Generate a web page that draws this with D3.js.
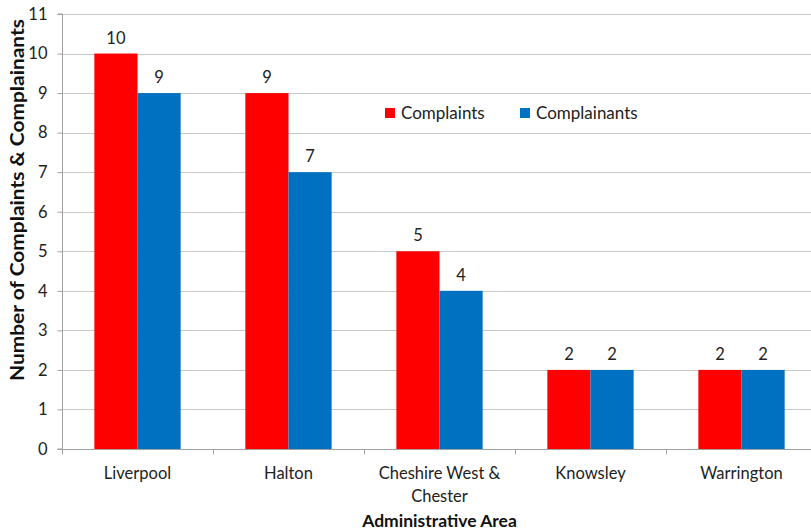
<!DOCTYPE html>
<html><head><meta charset="utf-8">
<script src="https://cdn.jsdelivr.net/npm/d3@7"></script>
<style>body{margin:0;background:#fff}svg{display:block}text{font-family:Lato,"Open Sans",sans-serif}</style>
</head><body><svg id="c" width="811" height="532"></svg>
<script>
const categories = ["Liverpool","Halton","Cheshire West & Chester","Knowsley","Warrington"];
const categoryLines = [["Liverpool"],["Halton"],["Cheshire West &","Chester"],["Knowsley"],["Warrington"]];
const seriesNames = ["Complaints","Complainants"];
const complaints = [10,9,5,2,2];
const complainants = [9,7,4,2,2];
const yTicks = [0,1,2,3,4,5,6,7,8,9,10,11];
const colors = ["#ff0000","#0070c0"];

(function(){
const svg = d3.select("#c");
const pL = 62, pR = 817, pT = 14, pB = 449;
const fs = 16.5;
const x = d3.scaleBand().domain(categories).range([pL,pR]).paddingInner(0).paddingOuter(0);
const y = d3.scaleLinear().domain([0,11]).range([pB,pT]);
const bw = x.bandwidth()/3.5;
const xs = d3.scaleBand().domain(seriesNames).range([0,2*bw]);

// gridlines
svg.append("g").selectAll("line").data(yTicks.filter(d=>d>0)).join("line")
  .attr("x1",pL).attr("x2",811).attr("y1",d=>Math.round(y(d))+0.5).attr("y2",d=>Math.round(y(d))+0.5)
  .attr("stroke","#c8c8c8").attr("stroke-width",1);

const data = [complaints, complainants];
seriesNames.forEach((s,si)=>{
  const g = svg.append("g");
  g.selectAll("rect").data(categories).join("rect")
    .attr("x",(c)=>x(c)+0.75*bw+xs(s))
    .attr("width",bw)
    .attr("y",(c,i)=>y(data[si][i]))
    .attr("height",(c,i)=>pB-y(data[si][i]))
    .attr("fill",colors[si]);
  g.selectAll("text").data(categories).join("text")
    .attr("x",(c)=>x(c)+0.75*bw+xs(s)+bw/2)
    .attr("y",(c,i)=>y(data[si][i])-10)
    .attr("text-anchor","middle").attr("font-size",fs).attr("fill","#222")
    .text((c,i)=>data[si][i]);
});

// y axis
const ya = d3.axisLeft(y).tickValues(yTicks).tickSize(5).tickPadding(10);
const gy = svg.append("g").attr("transform",`translate(${pL+0.5},0)`).call(ya);
gy.select(".domain").attr("stroke","#a0a0a0").attr("d",`M-5,${pT}H0V${pB}H-5`);
gy.selectAll(".tick line").attr("stroke","#a0a0a0");
gy.selectAll(".tick text").attr("font-size",fs).attr("fill","#222").attr("font-family","Lato,'Open Sans',sans-serif");

// x axis
const gx = svg.append("g").attr("transform",`translate(0,${pB+0.5})`);
gx.append("line").attr("x1",pL).attr("x2",811).attr("stroke","#a0a0a0");
gx.selectAll("line.t").data(categories.concat(["_end"])).join("line").attr("class","t")
  .attr("x1",(c,i)=>pL+i*x.bandwidth()+0.5).attr("x2",(c,i)=>pL+i*x.bandwidth()+0.5)
  .attr("y1",0).attr("y2",5).attr("stroke","#a0a0a0");
gx.selectAll("text").data(categories).join("text")
  .attr("text-anchor","middle").attr("font-size",fs).attr("fill","#222")
  .attr("x",c=>x(c)+x.bandwidth()/2)
  .each(function(c,i){
    const t=d3.select(this);
    categoryLines[i].forEach((ln,k)=>t.append("tspan").attr("x",x(c)+x.bandwidth()/2).attr("y",29+k*23).text(ln));
  });

// axis titles
svg.append("text").attr("x",(pL+pR)/2).attr("y",527).attr("text-anchor","middle")
  .attr("font-size",17.5).attr("font-weight","bold").attr("fill","#111").text("Administrative Area");
svg.append("text").attr("transform",`translate(24,${(18+382)/2}) rotate(-90)`).attr("text-anchor","middle")
  .attr("font-size",18).attr("font-weight","bold").attr("fill","#111")
  .attr("textLength",362).attr("lengthAdjust","spacingAndGlyphs").text("Number of Complaints & Complainants");

// legend
const lg = svg.append("g");
const lx = [385,520];
seriesNames.forEach((s,i)=>{
  lg.append("rect").attr("x",lx[i]).attr("y",108).attr("width",10).attr("height",10).attr("fill",colors[i]);
  lg.append("text").attr("x",lx[i]+16).attr("y",119).attr("font-size",17).attr("fill","#222").text(s);
});
})();
</script></body></html>
